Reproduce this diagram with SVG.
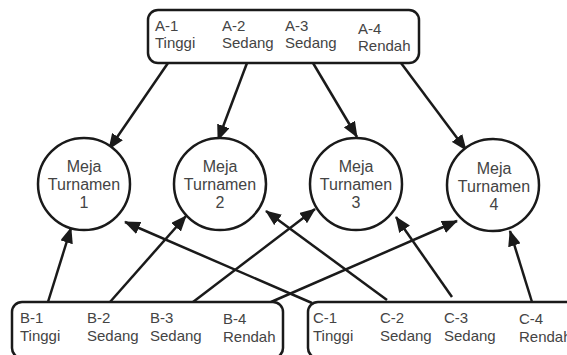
<svg xmlns="http://www.w3.org/2000/svg" width="567" height="355" viewBox="0 0 567 355">
  <style>
    .box { fill: #ffffff; stroke: #1a1a1a; stroke-width: 2.5; }
    .node { fill: #ffffff; stroke: #1a1a1a; stroke-width: 2.5; }
    .lbl { font-family: "Liberation Sans", Arial, sans-serif; font-size: 15px; fill: #444444; }
    .ctext { font-family: "Liberation Sans", Arial, sans-serif; font-size: 16px; fill: #444444; text-anchor: middle; }
    .edge { stroke: #1a1a1a; stroke-width: 2.5; fill: none; marker-end: url(#arrow); }
  </style>
  <defs>
    <marker id="arrow" markerUnits="userSpaceOnUse" markerWidth="17" markerHeight="13" refX="15" refY="6.5" orient="auto">
      <path d="M0,0 L16,6.5 L0,13 z" fill="#1a1a1a"/>
    </marker>
  </defs>
  <rect width="567" height="355" fill="#ffffff"/>

  <g id="connectors">
    <line class="edge" x1="168" y1="63" x2="109" y2="149"/>
    <line class="edge" x1="247" y1="63" x2="218" y2="140"/>
    <line class="edge" x1="313" y1="63" x2="357" y2="137"/>
    <line class="edge" x1="401" y1="63" x2="466" y2="150"/>
    <line class="edge" x1="48" y1="302" x2="71" y2="228"/>
    <line class="edge" x1="110" y1="302" x2="186" y2="216"/>
    <line class="edge" x1="193" y1="302" x2="315" y2="209"/>
    <line class="edge" x1="271" y1="302" x2="457" y2="221"/>
    <line class="edge" x1="312" y1="303" x2="125" y2="222"/>
    <line class="edge" x1="387" y1="300" x2="266" y2="211"/>
    <line class="edge" x1="452" y1="297" x2="396" y2="217"/>
    <line class="edge" x1="532" y1="302" x2="510" y2="231"/>
  </g>

  <g id="groupA">
    <rect class="box" x="148" y="10" width="271" height="53" rx="10"/>
    <text class="lbl" x="155" y="31">A-1</text>
    <text class="lbl" x="155" y="48">Tinggi</text>
    <text class="lbl" x="222" y="31">A-2</text>
    <text class="lbl" x="222" y="48">Sedang</text>
    <text class="lbl" x="285" y="31">A-3</text>
    <text class="lbl" x="285" y="48">Sedang</text>
    <text class="lbl" x="358" y="34">A-4</text>
    <text class="lbl" x="358" y="51">Rendah</text>
  </g>

  <g id="meja1">
    <circle class="node" cx="84" cy="184" r="46"/>
    <text class="ctext" x="84" y="172">Meja</text>
    <text class="ctext" x="84" y="190">Turnamen</text>
    <text class="ctext" x="84" y="208">1</text>
  </g>
  <g id="meja2">
    <circle class="node" cx="220" cy="184" r="46"/>
    <text class="ctext" x="220" y="172">Meja</text>
    <text class="ctext" x="220" y="190">Turnamen</text>
    <text class="ctext" x="220" y="208">2</text>
  </g>
  <g id="meja3">
    <circle class="node" cx="356" cy="184" r="46"/>
    <text class="ctext" x="356" y="172">Meja</text>
    <text class="ctext" x="356" y="190">Turnamen</text>
    <text class="ctext" x="356" y="208">3</text>
  </g>
  <g id="meja4">
    <circle class="node" cx="493" cy="185" r="46"/>
    <text class="ctext" x="494" y="174">Meja</text>
    <text class="ctext" x="494" y="192">Turnamen</text>
    <text class="ctext" x="494" y="210">4</text>
  </g>

  <g id="groupB">
    <rect class="box" x="12" y="302" width="271" height="56" rx="10"/>
    <text class="lbl" x="20" y="323">B-1</text>
    <text class="lbl" x="20" y="341">Tinggi</text>
    <text class="lbl" x="87" y="323">B-2</text>
    <text class="lbl" x="87" y="341">Sedang</text>
    <text class="lbl" x="150" y="323">B-3</text>
    <text class="lbl" x="150" y="341">Sedang</text>
    <text class="lbl" x="223" y="324">B-4</text>
    <text class="lbl" x="223" y="342">Rendah</text>
  </g>

  <g id="groupC">
    <rect class="box" x="308" y="302" width="272" height="56" rx="10"/>
    <text class="lbl" x="313" y="323">C-1</text>
    <text class="lbl" x="313" y="341">Tinggi</text>
    <text class="lbl" x="380" y="323">C-2</text>
    <text class="lbl" x="380" y="341">Sedang</text>
    <text class="lbl" x="444" y="323">C-3</text>
    <text class="lbl" x="444" y="341">Sedang</text>
    <text class="lbl" x="519" y="324">C-4</text>
    <text class="lbl" x="519" y="342">Rendah</text>
  </g>
</svg>
